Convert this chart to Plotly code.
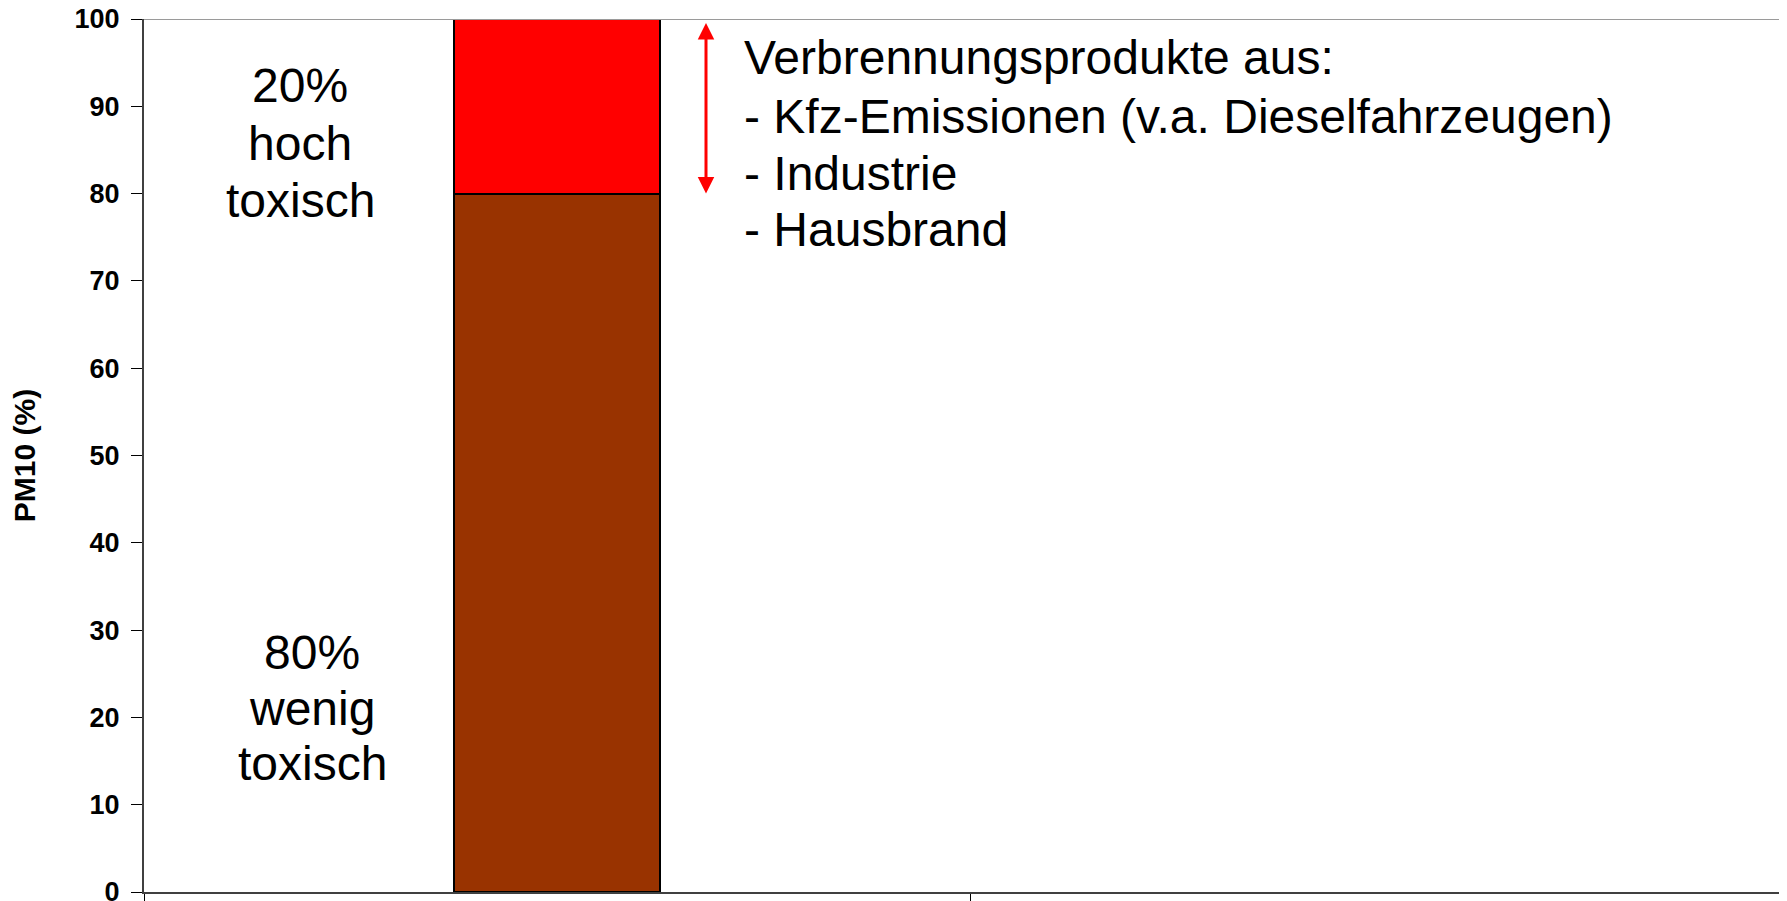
import plotly.graph_objects as go

# ---- data ----
categories = ["PM10"]
wenig_toxisch = [80]   # brown, lower segment (%)
hoch_toxisch = [20]    # red, upper segment (%)
y_ticks = [0, 10, 20, 30, 40, 50, 60, 70, 80, 90, 100]

label_high = ["20%", "hoch", "toxisch"]
label_low = ["80%", "wenig", "toxisch"]
label_sources = ["Verbrennungsprodukte aus:",
                 "- Kfz-Emissionen (v.a. Dieselfahrzeugen)",
                 "- Industrie",
                 "- Hausbrand"]

FONT = "Arial, 'Liberation Sans', sans-serif"

# page body has an 8px margin; figure sized so that it fits the 1787x901 window
W, H = 1779, 893
ML, MT, MB = 136, 11, 9
PLOT_H = H - MT - MB          # pixel height of the plot area
PLOT_W = W - ML               # pixel width of the plot area


def ydata(px_page):
    """convert a page pixel row (reference) into y-data units"""
    return (892 - px_page) / PLOT_H * 100


def xpaper(px_page):
    return (px_page - 144) / PLOT_W


fig = go.Figure()
fig.add_trace(go.Bar(x=categories, y=wenig_toxisch, width=0.25,
                     marker=dict(color="#993300", line=dict(color="#000000", width=2)),
                     showlegend=False, hoverinfo="y"))
fig.add_trace(go.Bar(x=categories, y=hoch_toxisch, width=0.25,
                     marker=dict(color="#FF0000", line=dict(color="#000000", width=2)),
                     showlegend=False, hoverinfo="y"))

annotations = []
big = dict(family=FONT, size=48, color="#000000")
for txt, py in zip(label_high, [85.5, 143.5, 200.5]):
    annotations.append(dict(text=txt, x=xpaper(300), xref="paper", y=ydata(py), yref="y",
                            xanchor="center", yanchor="middle", showarrow=False, font=big))
for txt, py in zip(label_low, [652, 708, 763]):
    annotations.append(dict(text=txt, x=xpaper(312), xref="paper", y=ydata(py), yref="y",
                            xanchor="center", yanchor="middle", showarrow=False, font=big))
for txt, py in zip(label_sources, [57, 116, 173, 229]):
    annotations.append(dict(text=txt, x=xpaper(742), xref="paper", y=ydata(py), yref="y",
                            xanchor="left", yanchor="middle", showarrow=False, font=big))
# red double arrow spanning the 20% segment
annotations.append(dict(text="", x=xpaper(706), xref="paper", y=ydata(23), yref="y",
                        ax=0, axref="pixel", ay=ydata(195), ayref="y",
                        showarrow=True, arrowhead=2, startarrowhead=2,
                        arrowside="end+start", arrowsize=1.1, startarrowsize=1.1,
                        arrowwidth=3, arrowcolor="#FF0000",
                        standoff=0, startstandoff=0))

fig.update_layout(
    width=W, height=H,
    margin=dict(l=ML, r=0, t=MT, b=MB, autoexpand=False),
    paper_bgcolor="white", plot_bgcolor="white",
    barmode="stack", bargap=0,
    annotations=annotations,
    shapes=[dict(type="line", xref="paper", yref="y", x0=0, x1=1, y0=100, y1=100,
                 line=dict(color="#9a9a9a", width=2))],
    font=dict(family=FONT, color="#000000"),
)
fig.update_xaxes(type="category", range=[-0.5, -0.5 + PLOT_W / 826], showticklabels=False,
                 tickson="boundaries", ticks="outside", ticklen=9, tickwidth=1,
                 tickcolor="#000000", showgrid=False, zeroline=False,
                 showline=True, linecolor="#404040", linewidth=2)
fig.update_yaxes(range=[0, 100], tickvals=y_ticks, ticks="outside", ticklen=11,
                 tickwidth=1, tickcolor="#000000", showgrid=False, zeroline=False,
                 showline=True, linecolor="#404040", linewidth=2,
                 ticklabelstandoff=6, ticklabeloverflow="allow",
                 tickfont=dict(family=FONT, size=27, color="#000000", weight="bold"),
                 title=dict(text="<b>PM10 (%)</b>", standoff=37,
                            font=dict(family=FONT, size=30, color="#000000")))

fig.write_html("out.html")
